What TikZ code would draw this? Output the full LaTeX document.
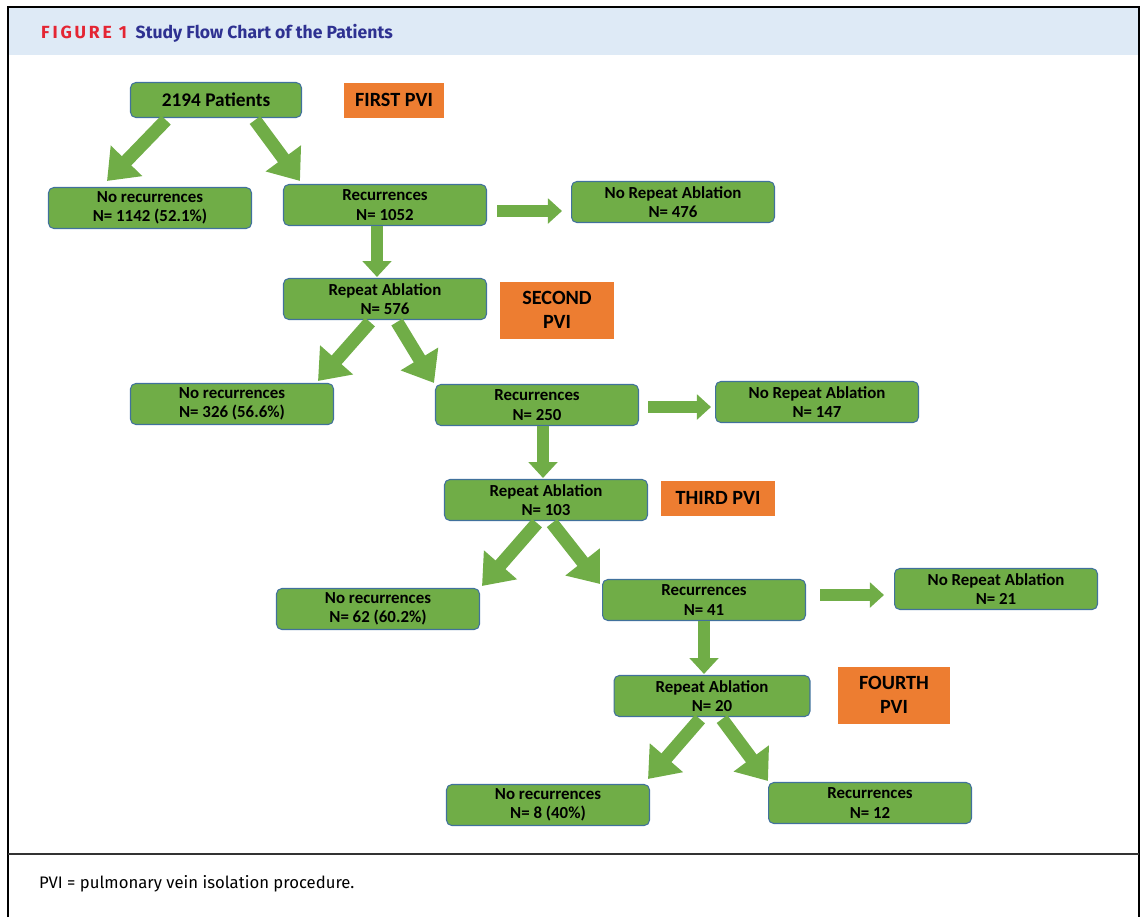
\documentclass[tikz,border=0pt]{standalone}
\usepackage{fontspec}
\setmainfont{Carlito}
\newfontfamily\headfont{Fira Sans}
\usetikzlibrary{arrows.meta, calc}
\definecolor{boxgreen}{HTML}{70AD47}
\definecolor{boxline}{HTML}{41719C}
\definecolor{pviorange}{HTML}{ED7D31}
\definecolor{bandblue}{HTML}{DEEAF6}
\definecolor{titleblue}{HTML}{2E3191}
\definecolor{figred}{HTML}{E42533}

\begin{document}
\begin{tikzpicture}[x=0.02cm, y=-0.02cm,
  stage/.style={draw=boxline, fill=boxgreen, line width=0.6pt, rounded corners=3pt,
                minimum width=4.06cm, minimum height=0.82cm, inner sep=1pt,
                align=center, font=\bfseries\fontsize{9.6}{11}\selectfont},
  pvi/.style={fill=pviorange, align=center, inner sep=1pt,
              font=\bfseries\fontsize{11.5}{13.5}\selectfont},
  slant/.style={draw=boxgreen, line width=7.5pt, -{Triangle[width=24pt, length=16pt]}},
  drop/.style={draw=boxgreen, line width=7pt, -{Triangle[width=16pt, length=9pt]}},
  side/.style={draw=boxgreen, line width=6.5pt, -{Triangle[width=14pt, length=8pt]}},
]
  \useasboundingbox (0,0) rectangle (1142,917);
  \fill[bandblue] (8,8) rectangle (1139,55);
  \draw[line width=1.5pt] (8,917) -- (8,7) -- (1139,7) -- (1139,917);
  \draw[line width=1.3pt, black!80] (8,854) -- (1139,854);

  \node[anchor=west, font=\headfont\bfseries\fontsize{10}{12}\selectfont] (title) at (35,33)
    {\textcolor{figred}{\addfontfeatures{LetterSpace=16}FIGURE 1}\enspace\textcolor{titleblue}{Study Flow Chart of the Patients}};
  \node[anchor=west, font=\headfont\fontsize{9.5}{11}\selectfont] (note) at (33,884)
    {PVI = pulmonary vein isolation procedure.};

  % first PVI
  \node[stage, minimum width=3.42cm, minimum height=0.7cm, font=\bfseries\fontsize{11}{13}\selectfont] (pat) at (216,100) {2194 Patients};
  \node[pvi, minimum width=2.02cm, minimum height=0.7cm] (pvi1) at (394,100) {FIRST PVI};
  \node[stage] (norec1) at (150,208) {No recurrences\\N= 1142 (52.1\%)};
  \node[stage] (rec1) at (385,205) {Recurrences\\N= 1052};
  \node[stage] (norep1) at (673,202) {No Repeat Ablation\\N= 476};

  % second PVI
  \node[stage] (rep1) at (385,299) {Repeat Ablation\\N= 576};
  \node[pvi, minimum width=2.28cm, minimum height=1.14cm] (pvi2) at (557,310) {SECOND\\PVI};
  \node[stage] (norec2) at (232,404) {No recurrences\\N= 326 (56.6\%)};
  \node[stage] (rec2) at (537,405) {Recurrences\\N= 250};
  \node[stage] (norep2) at (817,402) {No Repeat Ablation\\N= 147};

  % third PVI
  \node[stage] (rep2) at (546,500) {Repeat Ablation\\N= 103};
  \node[pvi, minimum width=2.28cm, minimum height=0.7cm] (pvi3) at (718,498) {THIRD PVI};
  \node[stage] (norec3) at (378,609) {No recurrences\\N= 62 (60.2\%)};
  \node[stage] (rec3) at (704,600) {Recurrences\\N= 41};
  \node[stage] (norep3) at (996,589) {No Repeat Ablation\\N= 21};

  % fourth PVI
  \node[stage, minimum width=3.92cm] (rep3) at (712,696) {Repeat Ablation\\N= 20};
  \node[pvi, minimum width=2.24cm, minimum height=1.14cm] (pvi4) at (894,695) {FOURTH\\PVI};
  \node[stage] (norec4) at (548,805) {No recurrences\\N= 8 (40\%)};
  \node[stage] (rec4) at (870,803) {Recurrences\\N= 12};

  % arrows
  \draw[slant] ($(pat.south)+(-50,2)$) -- ($(norec1.north)+(-43,-6)$);
  \draw[slant] ($(pat.south)+(39,2)$) -- ($(rec1.north)+(-85,-3)$);
  \draw[side] ($(rec1.east)+(10,6)$) -- ($(norep1.west)+(-9,9)$);
  \draw[drop] ($(rec1.south)+(-8,0)$) -- ($(rep1.north)+(-8,-1)$);

  \draw[slant] ($(rep1.south)+(-15,2)$) -- ($(norec2.north)+(86,-2)$);
  \draw[slant] ($(rep1.south)+(12,2)$) -- ($(rec2.north)+(-103,-1)$);
  \draw[side] ($(rec2.east)+(9,2)$) -- ($(norep2.west)+(-4,5)$);
  \draw[drop] ($(rec2.south)+(6,0)$) -- ($(rep2.north)+(-3,-1)$);

  \draw[slant] ($(rep2.south)+(-9,2)$) -- ($(norec3.north)+(104,-2)$);
  \draw[slant] ($(rep2.south)+(6,2)$) -- ($(rec3.north)+(-104,5)$);
  \draw[side] ($(rec3.east)+(14,-5)$) -- ($(norep3.west)+(-10,6)$);
  \draw[drop] ($(rec3.south)+(0,0)$) -- ($(rep3.north)+(-8,-1)$);

  \draw[slant] ($(rep3.south)+(-12,2)$) -- ($(norec4.north)+(100,-5)$);
  \draw[slant] ($(rep3.south)+(10,2)$) -- ($(rec4.north)+(-102,-1)$);
\end{tikzpicture}
\end{document}
